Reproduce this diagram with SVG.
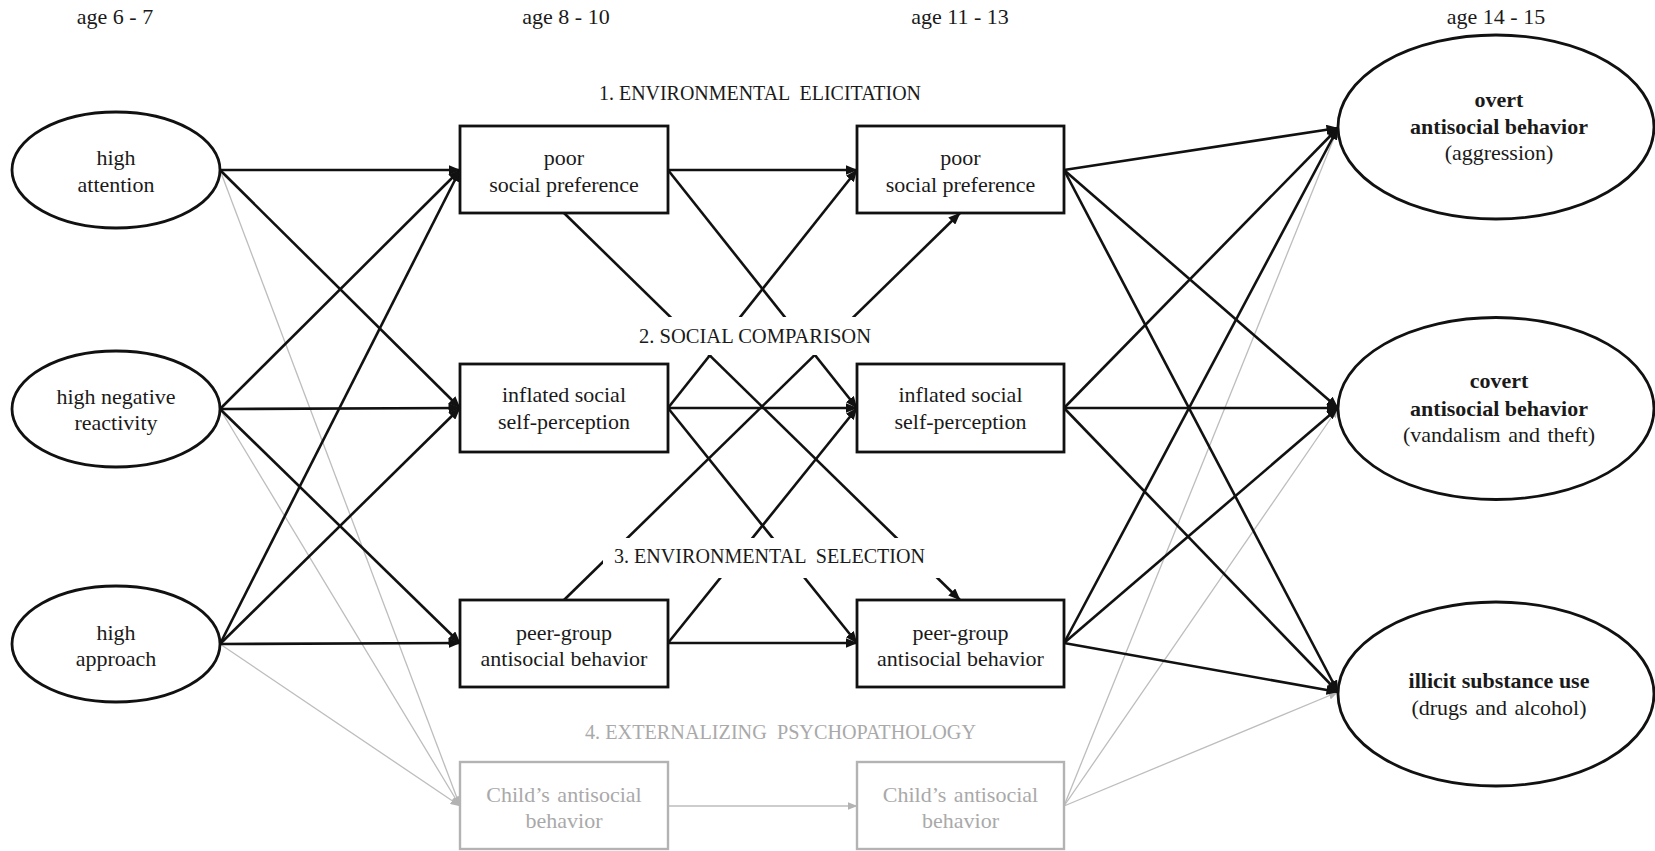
<svg xmlns="http://www.w3.org/2000/svg" width="1655" height="851" viewBox="0 0 1655 851">
  <style>
    .t { font-family: "Liberation Serif", "Times New Roman", serif; font-size: 22px; fill: #1a1a1a; text-anchor: middle; }
    .b { font-weight: bold; }
    .lab { font-size: 20px; }
    .g { fill: #a9a9a9; }
    .ws { word-spacing: 2px; }
    .node { fill: #ffffff; stroke: #111111; stroke-width: 2.8; }
    .gnode { fill: #ffffff; stroke: #b3b3b3; stroke-width: 2.4; }
    .edge { fill: none; stroke: #111111; stroke-width: 2.6; marker-end: url(#ah); }
    .gedge { fill: none; stroke: #bdbdbd; stroke-width: 1.3; marker-end: url(#gah); }
    .mask { fill: #ffffff; stroke: none; }
  </style>
  <defs>
    <marker id="ah" viewBox="0 0 12 10" refX="11.5" refY="5" markerWidth="12" markerHeight="10" markerUnits="userSpaceOnUse" orient="auto">
      <path d="M0,0 L12,5 L0,10 z" fill="#111111"/>
    </marker>
    <marker id="gah" viewBox="0 0 10 8" refX="9.5" refY="4" markerWidth="10" markerHeight="8" markerUnits="userSpaceOnUse" orient="auto">
      <path d="M0,0 L10,4 L0,8 z" fill="#b3b3b3"/>
    </marker>
  </defs>

  <rect x="0" y="0" width="1655" height="851" fill="#ffffff"/>

  <!-- age headings -->
  <g id="ages">
    <text class="t" x="115" y="24">age 6 - 7</text>
    <text class="t" x="566" y="24">age 8 - 10</text>
    <text class="t" x="960" y="24">age 11 - 13</text>
    <text class="t" x="1496" y="24">age 14 - 15</text>
  </g>

  <!-- connectors -->
  <g id="connectors">
    <!-- grey externalizing paths (drawn first, underneath) -->
    <path class="gedge" d="M220,170 L460,806"/>
    <path class="gedge" d="M220,409 L460,806"/>
    <path class="gedge" d="M220,644 L460,806"/>
    <path class="gedge" d="M668,806 L857,806"/>
    <path class="gedge" d="M1064,806 L1338,128"/>
    <path class="gedge" d="M1064,806 L1338,408"/>
    <path class="gedge" d="M1064,806 L1338,692"/>

    <!-- temperament to age 8-10 -->
    <path class="edge" d="M220,170 L460,170"/>
    <path class="edge" d="M220,170 L460,408"/>
    <path class="edge" d="M220,409 L460,170"/>
    <path class="edge" d="M220,409 L460,408"/>
    <path class="edge" d="M220,409 L460,643"/>
    <path class="edge" d="M220,644 L460,170"/>
    <path class="edge" d="M220,644 L460,408"/>
    <path class="edge" d="M220,644 L460,643"/>

    <!-- age 8-10 to age 11-13 -->
    <path class="edge" d="M668,170 L857,170"/>
    <path class="edge" d="M668,170 L857,408"/>
    <path class="edge" d="M564,213 L960,600"/>
    <path class="edge" d="M668,408 L857,170"/>
    <path class="edge" d="M668,408 L857,408"/>
    <path class="edge" d="M668,408 L857,643"/>
    <path class="edge" d="M564,600 L960,213"/>
    <path class="edge" d="M668,643 L857,408"/>
    <path class="edge" d="M668,643 L857,643"/>

    <!-- age 11-13 to outcomes -->
    <path class="edge" d="M1064,170 L1338,128"/>
    <path class="edge" d="M1064,170 L1338,408"/>
    <path class="edge" d="M1064,170 L1338,692"/>
    <path class="edge" d="M1064,408 L1338,128"/>
    <path class="edge" d="M1064,408 L1338,408"/>
    <path class="edge" d="M1064,408 L1338,692"/>
    <path class="edge" d="M1064,643 L1338,128"/>
    <path class="edge" d="M1064,643 L1338,408"/>
    <path class="edge" d="M1064,643 L1338,692"/>
  </g>

  <!-- mechanism labels, with white backing that breaks the lines beneath -->
  <g id="labels">
    <text class="t lab" x="760" y="100" textLength="322" lengthAdjust="spacingAndGlyphs" xml:space="preserve">1. ENVIRONMENTAL  ELICITATION</text>
    <rect class="mask" x="632" y="317" width="248" height="38"/>
    <text class="t lab" x="755" y="343" textLength="232" lengthAdjust="spacingAndGlyphs">2. SOCIAL COMPARISON</text>
    <rect class="mask" x="603" y="538" width="342" height="40"/>
    <text class="t lab" x="769.5" y="563" textLength="311" lengthAdjust="spacingAndGlyphs" xml:space="preserve">3. ENVIRONMENTAL  SELECTION</text>
    <text class="t lab g" x="780.5" y="739" textLength="391" lengthAdjust="spacingAndGlyphs" xml:space="preserve">4. EXTERNALIZING  PSYCHOPATHOLOGY</text>
  </g>

  <!-- age 6-7 temperament -->
  <g id="attention">
    <ellipse class="node" cx="116" cy="170" rx="104" ry="58"/>
    <text class="t" x="116" y="165">high</text>
    <text class="t" x="116" y="192">attention</text>
  </g>
  <g id="reactivity">
    <ellipse class="node" cx="116" cy="409" rx="104" ry="58"/>
    <text class="t" x="116" y="404">high negative</text>
    <text class="t" x="116" y="430">reactivity</text>
  </g>
  <g id="approach">
    <ellipse class="node" cx="116" cy="644" rx="104" ry="58"/>
    <text class="t" x="116" y="640">high</text>
    <text class="t" x="116" y="666">approach</text>
  </g>

  <!-- age 8-10 -->
  <g id="pref1">
    <rect class="node" x="460" y="126" width="208" height="87"/>
    <text class="t" x="564" y="165">poor</text>
    <text class="t" x="564" y="192">social preference</text>
  </g>
  <g id="self1">
    <rect class="node" x="460" y="364" width="208" height="88"/>
    <text class="t" x="564" y="402">inflated social</text>
    <text class="t" x="564" y="429">self-perception</text>
  </g>
  <g id="peer1">
    <rect class="node" x="460" y="600" width="208" height="87"/>
    <text class="t" x="564" y="640">peer-group</text>
    <text class="t" x="564" y="666">antisocial behavior</text>
  </g>
  <g id="child1">
    <rect class="gnode" x="460" y="762" width="208" height="87"/>
    <text class="t g ws" x="564" y="802">Child’s antisocial</text>
    <text class="t g" x="564" y="828">behavior</text>
  </g>

  <!-- age 11-13 -->
  <g id="pref2">
    <rect class="node" x="857" y="126" width="207" height="87"/>
    <text class="t" x="960.5" y="165">poor</text>
    <text class="t" x="960.5" y="192">social preference</text>
  </g>
  <g id="self2">
    <rect class="node" x="857" y="364" width="207" height="88"/>
    <text class="t" x="960.5" y="402">inflated social</text>
    <text class="t" x="960.5" y="429">self-perception</text>
  </g>
  <g id="peer2">
    <rect class="node" x="857" y="600" width="207" height="87"/>
    <text class="t" x="960.5" y="640">peer-group</text>
    <text class="t" x="960.5" y="666">antisocial behavior</text>
  </g>
  <g id="child2">
    <rect class="gnode" x="857" y="762" width="207" height="87"/>
    <text class="t g ws" x="960.5" y="802">Child’s antisocial</text>
    <text class="t g" x="960.5" y="828">behavior</text>
  </g>

  <!-- age 14-15 outcomes -->
  <g id="overt">
    <ellipse class="node" cx="1496" cy="127" rx="158" ry="92"/>
    <text class="t b" x="1499" y="107">overt</text>
    <text class="t b" x="1499" y="134">antisocial behavior</text>
    <text class="t" x="1499" y="160">(aggression)</text>
  </g>
  <g id="covert">
    <ellipse class="node" cx="1496" cy="408.5" rx="158" ry="91"/>
    <text class="t b" x="1499" y="388">covert</text>
    <text class="t b" x="1499" y="416">antisocial behavior</text>
    <text class="t ws" x="1499" y="442">(vandalism and theft)</text>
  </g>
  <g id="substance">
    <ellipse class="node" cx="1496" cy="694" rx="158" ry="92"/>
    <text class="t b" x="1499" y="688">illicit substance use</text>
    <text class="t ws" x="1499" y="715">(drugs and alcohol)</text>
  </g>
</svg>
